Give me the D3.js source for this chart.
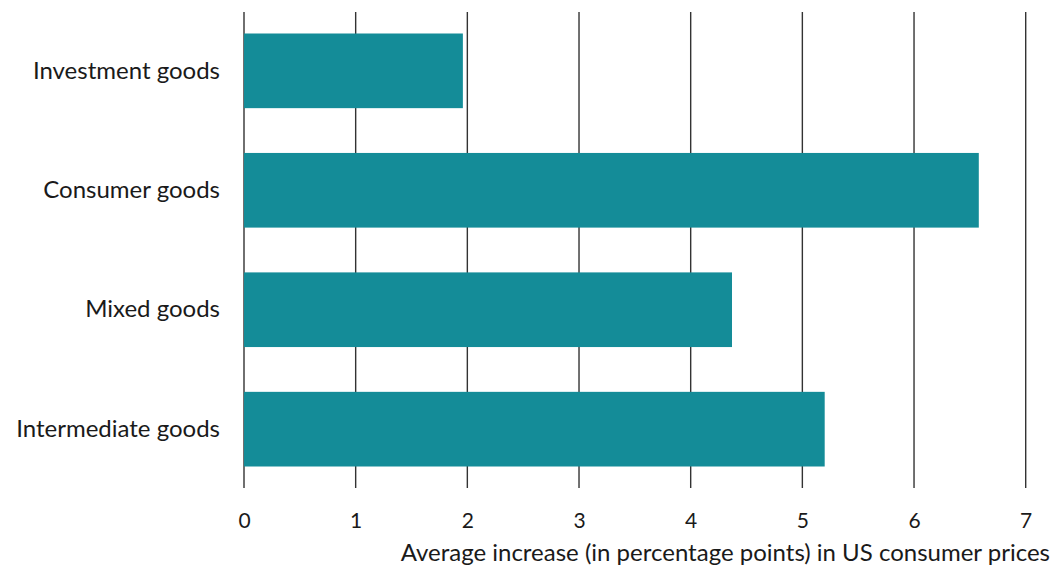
<!DOCTYPE html>
<html><head><meta charset="utf-8">
<script src="https://cdn.jsdelivr.net/npm/d3@7"></script>
<style>body{margin:0;background:#fff}svg{display:block}text{font-family:Lato,"Open Sans",sans-serif;fill:#1a1a1a}</style>
</head><body><div id="chart"></div>
<script>
const categories = ["Investment goods","Consumer goods","Mixed goods","Intermediate goods"];
const values = [1.96, 6.58, 4.37, 5.20];
const xTicks = [0,1,2,3,4,5,6,7];
const xTitle = "Average increase (in percentage points) in US consumer prices";

const W=1054,H=567;
const svg=d3.select("#chart").append("svg").attr("width",W).attr("height",H);
const x=d3.scaleLinear().domain([0,7]).range([244,1025.7]);
const y=d3.scaleBand().domain(categories).range([12,488]).paddingInner(0.375).paddingOuter(0.18);

svg.append("g").selectAll("line").data(xTicks).join("line")
  .attr("x1",d=>x(d)).attr("x2",d=>x(d)).attr("y1",12).attr("y2",488)
  .attr("stroke","#333").attr("stroke-width",1.4);

svg.append("g").selectAll("rect").data(values).join("rect")
  .attr("x",x(0)).attr("y",(d,i)=>y(categories[i]))
  .attr("width",d=>x(d)-x(0)).attr("height",y.bandwidth())
  .attr("fill","#148c98");

const xAxis=svg.append("g").attr("transform","translate(0,488)")
  .call(d3.axisBottom(x).tickValues(xTicks).tickSize(0).tickPadding(25).tickFormat(d3.format("d")));
xAxis.select(".domain").remove();
xAxis.selectAll("text").style("font-size","21px").attr("fill","#1a1a1a");

const yAxis=svg.append("g").attr("transform","translate(244,0)")
  .call(d3.axisLeft(y).tickSize(0).tickPadding(24));
yAxis.select(".domain").remove();
yAxis.selectAll("text").style("font-size","24px").attr("fill","#1a1a1a");

svg.append("text").attr("x",1050).attr("y",561).attr("text-anchor","end")
  .style("font-size","24px").text(xTitle);
</script></body></html>
